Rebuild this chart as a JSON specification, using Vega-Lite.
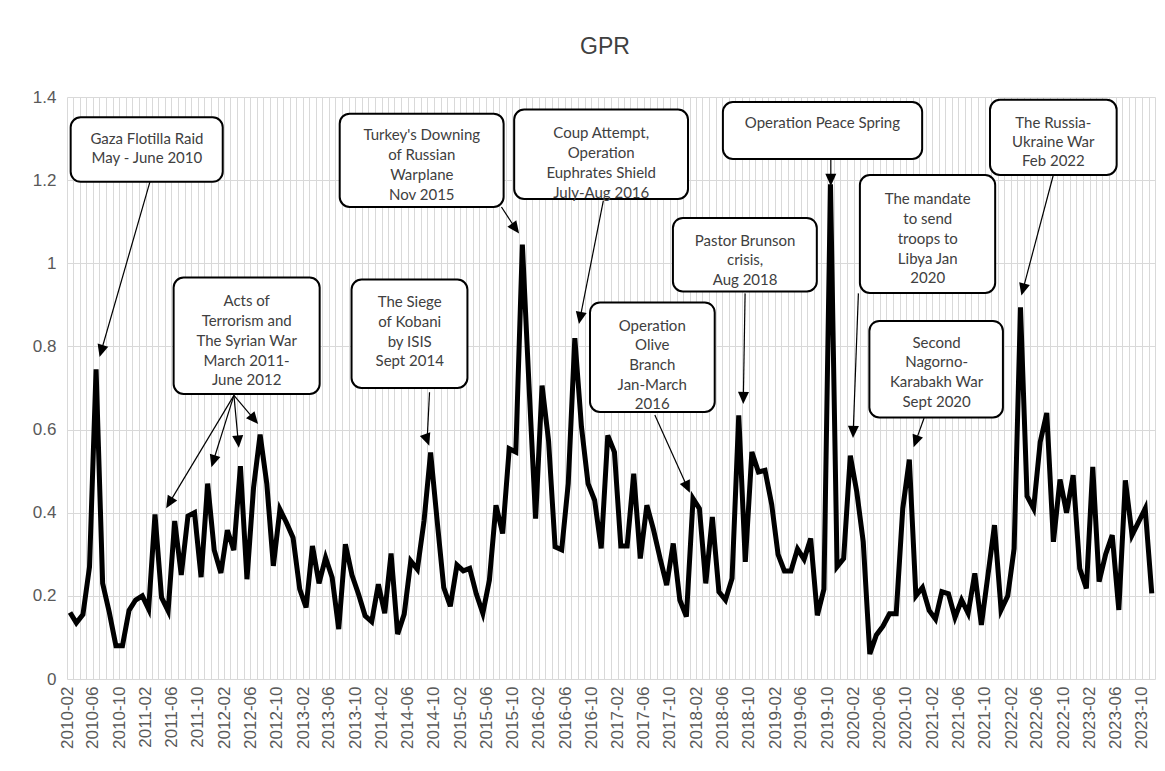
{
  "$schema": "https://vega.github.io/schema/vega-lite/v6.json",
  "width": 1088,
  "height": 582,
  "autosize": {"type": "none"},
  "padding": {"left": 67, "top": 97, "right": 10, "bottom": 92},
  "background": "white",
  "title": {"text": "GPR", "fontSize": 23, "font": "Liberation Sans", "fontWeight": "normal", "color": "#404040", "offset": 29, "dx": -6, "anchor": "middle"},
  "config": {"view": {"stroke": null}, "font": "Liberation Sans"},
  "datasets": {
    "gpr": [
      {"month": "2010-02", "gpr": 0.16}, {"month": "2010-03", "gpr": 0.135}, {"month": "2010-04", "gpr": 0.155}, {"month": "2010-05", "gpr": 0.27},
      {"month": "2010-06", "gpr": 0.745}, {"month": "2010-07", "gpr": 0.23}, {"month": "2010-08", "gpr": 0.16}, {"month": "2010-09", "gpr": 0.08},
      {"month": "2010-10", "gpr": 0.08}, {"month": "2010-11", "gpr": 0.165}, {"month": "2010-12", "gpr": 0.19}, {"month": "2011-01", "gpr": 0.2},
      {"month": "2011-02", "gpr": 0.168}, {"month": "2011-03", "gpr": 0.396}, {"month": "2011-04", "gpr": 0.196}, {"month": "2011-05", "gpr": 0.164},
      {"month": "2011-06", "gpr": 0.38}, {"month": "2011-07", "gpr": 0.25}, {"month": "2011-08", "gpr": 0.392}, {"month": "2011-09", "gpr": 0.4},
      {"month": "2011-10", "gpr": 0.245}, {"month": "2011-11", "gpr": 0.47}, {"month": "2011-12", "gpr": 0.31}, {"month": "2012-01", "gpr": 0.255},
      {"month": "2012-02", "gpr": 0.358}, {"month": "2012-03", "gpr": 0.31}, {"month": "2012-04", "gpr": 0.512}, {"month": "2012-05", "gpr": 0.24},
      {"month": "2012-06", "gpr": 0.46}, {"month": "2012-07", "gpr": 0.588}, {"month": "2012-08", "gpr": 0.47}, {"month": "2012-09", "gpr": 0.272},
      {"month": "2012-10", "gpr": 0.408}, {"month": "2012-11", "gpr": 0.376}, {"month": "2012-12", "gpr": 0.34}, {"month": "2013-01", "gpr": 0.216},
      {"month": "2013-02", "gpr": 0.172}, {"month": "2013-03", "gpr": 0.32}, {"month": "2013-04", "gpr": 0.23}, {"month": "2013-05", "gpr": 0.292},
      {"month": "2013-06", "gpr": 0.244}, {"month": "2013-07", "gpr": 0.12}, {"month": "2013-08", "gpr": 0.324}, {"month": "2013-09", "gpr": 0.25},
      {"month": "2013-10", "gpr": 0.204}, {"month": "2013-11", "gpr": 0.152}, {"month": "2013-12", "gpr": 0.138}, {"month": "2014-01", "gpr": 0.228},
      {"month": "2014-02", "gpr": 0.158}, {"month": "2014-03", "gpr": 0.302}, {"month": "2014-04", "gpr": 0.108}, {"month": "2014-05", "gpr": 0.156},
      {"month": "2014-06", "gpr": 0.284}, {"month": "2014-07", "gpr": 0.264}, {"month": "2014-08", "gpr": 0.38}, {"month": "2014-09", "gpr": 0.545},
      {"month": "2014-10", "gpr": 0.38}, {"month": "2014-11", "gpr": 0.22}, {"month": "2014-12", "gpr": 0.175}, {"month": "2015-01", "gpr": 0.274},
      {"month": "2015-02", "gpr": 0.26}, {"month": "2015-03", "gpr": 0.266}, {"month": "2015-04", "gpr": 0.205}, {"month": "2015-05", "gpr": 0.158},
      {"month": "2015-06", "gpr": 0.238}, {"month": "2015-07", "gpr": 0.418}, {"month": "2015-08", "gpr": 0.35}, {"month": "2015-09", "gpr": 0.554},
      {"month": "2015-10", "gpr": 0.546}, {"month": "2015-11", "gpr": 1.045}, {"month": "2015-12", "gpr": 0.71}, {"month": "2016-01", "gpr": 0.386},
      {"month": "2016-02", "gpr": 0.706}, {"month": "2016-03", "gpr": 0.574}, {"month": "2016-04", "gpr": 0.318}, {"month": "2016-05", "gpr": 0.311},
      {"month": "2016-06", "gpr": 0.47}, {"month": "2016-07", "gpr": 0.82}, {"month": "2016-08", "gpr": 0.606}, {"month": "2016-09", "gpr": 0.47},
      {"month": "2016-10", "gpr": 0.43}, {"month": "2016-11", "gpr": 0.314}, {"month": "2016-12", "gpr": 0.586}, {"month": "2017-01", "gpr": 0.546},
      {"month": "2017-02", "gpr": 0.32}, {"month": "2017-03", "gpr": 0.32}, {"month": "2017-04", "gpr": 0.494}, {"month": "2017-05", "gpr": 0.29},
      {"month": "2017-06", "gpr": 0.418}, {"month": "2017-07", "gpr": 0.36}, {"month": "2017-08", "gpr": 0.29}, {"month": "2017-09", "gpr": 0.226},
      {"month": "2017-10", "gpr": 0.326}, {"month": "2017-11", "gpr": 0.19}, {"month": "2017-12", "gpr": 0.15}, {"month": "2018-01", "gpr": 0.434},
      {"month": "2018-02", "gpr": 0.41}, {"month": "2018-03", "gpr": 0.23}, {"month": "2018-04", "gpr": 0.39}, {"month": "2018-05", "gpr": 0.21},
      {"month": "2018-06", "gpr": 0.19}, {"month": "2018-07", "gpr": 0.242}, {"month": "2018-08", "gpr": 0.634}, {"month": "2018-09", "gpr": 0.282},
      {"month": "2018-10", "gpr": 0.546}, {"month": "2018-11", "gpr": 0.498}, {"month": "2018-12", "gpr": 0.502}, {"month": "2019-01", "gpr": 0.42},
      {"month": "2019-02", "gpr": 0.3}, {"month": "2019-03", "gpr": 0.26}, {"month": "2019-04", "gpr": 0.26}, {"month": "2019-05", "gpr": 0.313},
      {"month": "2019-06", "gpr": 0.288}, {"month": "2019-07", "gpr": 0.338}, {"month": "2019-08", "gpr": 0.153}, {"month": "2019-09", "gpr": 0.216},
      {"month": "2019-10", "gpr": 1.19}, {"month": "2019-11", "gpr": 0.27}, {"month": "2019-12", "gpr": 0.29}, {"month": "2020-01", "gpr": 0.537},
      {"month": "2020-02", "gpr": 0.45}, {"month": "2020-03", "gpr": 0.33}, {"month": "2020-04", "gpr": 0.06}, {"month": "2020-05", "gpr": 0.106},
      {"month": "2020-06", "gpr": 0.127}, {"month": "2020-07", "gpr": 0.157}, {"month": "2020-08", "gpr": 0.157}, {"month": "2020-09", "gpr": 0.41},
      {"month": "2020-10", "gpr": 0.528}, {"month": "2020-11", "gpr": 0.2}, {"month": "2020-12", "gpr": 0.22}, {"month": "2021-01", "gpr": 0.165},
      {"month": "2021-02", "gpr": 0.144}, {"month": "2021-03", "gpr": 0.21}, {"month": "2021-04", "gpr": 0.205}, {"month": "2021-05", "gpr": 0.148},
      {"month": "2021-06", "gpr": 0.19}, {"month": "2021-07", "gpr": 0.158}, {"month": "2021-08", "gpr": 0.254}, {"month": "2021-09", "gpr": 0.13},
      {"month": "2021-10", "gpr": 0.25}, {"month": "2021-11", "gpr": 0.37}, {"month": "2021-12", "gpr": 0.166}, {"month": "2022-01", "gpr": 0.2},
      {"month": "2022-02", "gpr": 0.314}, {"month": "2022-03", "gpr": 0.894}, {"month": "2022-04", "gpr": 0.44}, {"month": "2022-05", "gpr": 0.41},
      {"month": "2022-06", "gpr": 0.57}, {"month": "2022-07", "gpr": 0.64}, {"month": "2022-08", "gpr": 0.33}, {"month": "2022-09", "gpr": 0.48},
      {"month": "2022-10", "gpr": 0.4}, {"month": "2022-11", "gpr": 0.49}, {"month": "2022-12", "gpr": 0.266}, {"month": "2023-01", "gpr": 0.218},
      {"month": "2023-02", "gpr": 0.51}, {"month": "2023-03", "gpr": 0.234}, {"month": "2023-04", "gpr": 0.3}, {"month": "2023-05", "gpr": 0.346},
      {"month": "2023-06", "gpr": 0.166}, {"month": "2023-07", "gpr": 0.478}, {"month": "2023-08", "gpr": 0.346}, {"month": "2023-09", "gpr": 0.378},
      {"month": "2023-10", "gpr": 0.41}, {"month": "2023-11", "gpr": 0.206}
    ],
    "boxes": [
      {"event": "Gaza", "x": "2010-02-18", "x2": "2012-01-25", "y": 1.351, "y2": 1.196},
      {"event": "Syria", "x": "2011-06-11", "x2": "2013-04-19", "y": 0.9656, "y2": 0.6856},
      {"event": "Kobani", "x": "2013-09-14", "x2": "2015-03-06", "y": 0.9608, "y2": 0.70},
      {"event": "Warplane", "x": "2013-07-21", "x2": "2015-08-21", "y": 1.360, "y2": 1.1354},
      {"event": "Coup", "x": "2015-10-09", "x2": "2017-12-24", "y": 1.3697, "y2": 1.1547},
      {"event": "Olive", "x": "2016-09-25", "x2": "2018-04-27", "y": 0.9057, "y2": 0.6423},
      {"event": "Brunson", "x": "2017-10-15", "x2": "2019-08-14", "y": 1.109, "y2": 0.9322},
      {"event": "Peace", "x": "2018-06-04", "x2": "2020-12-15", "y": 1.388, "y2": 1.2509},
      {"event": "Libya", "x": "2020-03-01", "x2": "2021-11-19", "y": 1.2124, "y2": 0.9285},
      {"event": "Nagorno", "x": "2020-04-14", "x2": "2021-12-25", "y": 0.8612, "y2": 0.6291},
      {"event": "Ukraine", "x": "2021-10-26", "x2": "2023-06-06", "y": 1.3933, "y2": 1.2124}
    ],
    "labels": [
      {"x": "2011-02-07", "y": 1.300, "text": "Gaza Flotilla Raid"},
      {"x": "2011-02-07", "y": 1.253, "text": "May - June 2010"},
      {"x": "2012-05-15", "y": 0.9093, "text": "Acts of"},
      {"x": "2012-05-15", "y": 0.8612, "text": "Terrorism and"},
      {"x": "2012-05-15", "y": 0.8131, "text": "The Syrian War"},
      {"x": "2012-05-15", "y": 0.7659, "text": "March 2011-"},
      {"x": "2012-05-15", "y": 0.7183, "text": "June 2012"},
      {"x": "2014-06-11", "y": 0.9069, "text": "The Siege"},
      {"x": "2014-06-11", "y": 0.8588, "text": "of Kobani"},
      {"x": "2014-06-11", "y": 0.8114, "text": "by ISIS"},
      {"x": "2014-06-11", "y": 0.7640, "text": "Sept 2014"},
      {"x": "2014-08-06", "y": 1.3086, "text": "Turkey's Downing"},
      {"x": "2014-08-06", "y": 1.2605, "text": "of Russian"},
      {"x": "2014-08-06", "y": 1.2124, "text": "Warplane"},
      {"x": "2014-08-06", "y": 1.1653, "text": "Nov 2015"},
      {"x": "2016-11-16", "y": 1.3134, "text": "Coup Attempt,"},
      {"x": "2016-11-16", "y": 1.2653, "text": "Operation"},
      {"x": "2016-11-16", "y": 1.2172, "text": "Euphrates Shield"},
      {"x": "2016-11-16", "y": 1.1701, "text": "July-Aug 2016"},
      {"x": "2017-07-11", "y": 0.8492, "text": "Operation"},
      {"x": "2017-07-11", "y": 0.8023, "text": "Olive"},
      {"x": "2017-07-11", "y": 0.7554, "text": "Branch"},
      {"x": "2017-07-11", "y": 0.7084, "text": "Jan-March"},
      {"x": "2017-07-11", "y": 0.6608, "text": "2016"},
      {"x": "2018-09-15", "y": 1.0536, "text": "Pastor Brunson"},
      {"x": "2018-09-15", "y": 1.0079, "text": "crisis,"},
      {"x": "2018-09-15", "y": 0.9608, "text": "Aug 2018"},
      {"x": "2019-09-09", "y": 1.3382, "text": "Operation Peace Spring"},
      {"x": "2021-01-10", "y": 1.1547, "text": "The mandate"},
      {"x": "2021-01-10", "y": 1.1066, "text": "to send"},
      {"x": "2021-01-10", "y": 1.0584, "text": "troops to"},
      {"x": "2021-01-10", "y": 1.0111, "text": "Libya  Jan"},
      {"x": "2021-01-10", "y": 0.9656, "text": "2020"},
      {"x": "2021-02-20", "y": 0.8083, "text": "Second"},
      {"x": "2021-02-20", "y": 0.7626, "text": "Nagorno-"},
      {"x": "2021-02-20", "y": 0.7145, "text": "Karabakh War"},
      {"x": "2021-02-20", "y": 0.6663, "text": "Sept 2020"},
      {"x": "2022-08-16", "y": 1.3382, "text": "The Russia-"},
      {"x": "2022-08-16", "y": 1.2906, "text": "Ukraine War"},
      {"x": "2022-08-16", "y": 1.2461, "text": "Feb 2022"}
    ],
    "arrows": [
      {"x": "2011-02-21", "y": 1.196, "x2": "2010-07-10", "y2": 0.789, "angle": 196},
      {"x": "2012-03-17", "y": 0.6822, "x2": "2011-05-22", "y2": 0.4236, "angle": 211},
      {"x": "2012-03-17", "y": 0.6822, "x2": "2011-12-12", "y2": 0.5237, "angle": 197.5},
      {"x": "2012-03-17", "y": 0.6822, "x2": "2012-04-06", "y2": 0.571, "angle": 175},
      {"x": "2012-03-17", "y": 0.6822, "x2": "2012-06-19", "y2": 0.6245, "angle": 140},
      {"x": "2014-09-11", "y": 0.6897, "x2": "2014-08-31", "y2": 0.5752, "angle": 160},
      {"x": "2015-08-11", "y": 1.1354, "x2": "2015-10-15", "y2": 1.0837, "angle": 143.7},
      {"x": "2016-11-26", "y": 1.1508, "x2": "2016-08-10", "y2": 0.8682, "angle": 191},
      {"x": "2017-07-23", "y": 0.6351, "x2": "2017-12-21", "y2": 0.4614, "angle": 155.7},
      {"x": "2018-09-15", "y": 0.9276, "x2": "2018-09-07", "y2": 0.676, "angle": 181},
      {"x": "2019-10-18", "y": 1.2509, "x2": "2019-10-18", "y2": 1.2004, "angle": 180},
      {"x": "2020-02-23", "y": 0.9276, "x2": "2020-01-30", "y2": 0.5942, "angle": 182},
      {"x": "2020-12-24", "y": 0.6279, "x2": "2020-11-15", "y2": 0.5716, "angle": 200},
      {"x": "2022-08-16", "y": 1.2124, "x2": "2022-03-28", "y2": 0.9367, "angle": 194.7}
    ]
  },
  "layer": [
    {
      "data": {"name": "gpr"},
      "mark": {"type": "line", "color": "black", "strokeWidth": 5},
      "encoding": {
        "x": {
          "field": "month", "type": "temporal", "timeUnit": "utcyearmonth", "bandPosition": 0.5, "title": null,
          "scale": {"type": "utc", "domain": [{"year": 2010, "month": 2, "date": 1, "utc": true}, {"year": 2023, "month": 12, "date": 1, "utc": true}]},
          "axis": {
            "title": null,
            "tickCount": {"interval": "month", "step": 1},
            "grid": true, "gridColor": "#d9d9d9", "gridWidth": 1,
            "ticks": false, "domain": false,
            "labelAngle": -90,
            "labelExpr": "utcmonth(datum.value) % 4 == 1 ? utcFormat(datum.value, '%Y-%m') : ''",
            "labelFont": "Liberation Sans", "labelFontSize": 17, "labelColor": "#595959",
            "labelPadding": 7, "labelOverlap": false, "labelFlush": false, "labelBound": false
          }
        },
        "y": {
          "field": "gpr", "type": "quantitative", "title": null,
          "scale": {"domain": [0, 1.4], "nice": false, "zero": true},
          "axis": {
            "title": null,
            "values": [0, 0.2, 0.4, 0.6, 0.8, 1, 1.2, 1.4],
            "format": "~g",
            "grid": true, "gridColor": "#d9d9d9", "gridWidth": 1,
            "ticks": false, "domain": false,
            "labelFont": "Liberation Sans", "labelFontSize": 17, "labelColor": "#595959", "labelPadding": 11
          }
        }
      }
    },
    {
      "data": {"name": "arrows"},
      "mark": {"type": "rule", "color": "black", "strokeWidth": 1.2},
      "encoding": {
        "x": {"field": "x", "type": "temporal", "title": null},
        "x2": {"field": "x2"},
        "y": {"field": "y", "type": "quantitative", "title": null},
        "y2": {"field": "y2"}
      }
    },
    {
      "data": {"name": "arrows"},
      "mark": {"type": "point", "shape": "M0,-1L0.9,1L-0.9,1Z", "filled": true, "color": "black", "size": 150, "opacity": 1, "strokeWidth": 0},
      "encoding": {
        "x": {"field": "x2", "type": "temporal", "title": null},
        "y": {"field": "y2", "type": "quantitative", "title": null},
        "angle": {"field": "angle", "type": "quantitative", "scale": null}
      }
    },
    {
      "data": {"name": "boxes"},
      "mark": {"type": "rect", "fill": "white", "stroke": "black", "strokeWidth": 2, "cornerRadius": 10},
      "encoding": {
        "x": {"field": "x", "type": "temporal", "title": null},
        "x2": {"field": "x2"},
        "y": {"field": "y", "type": "quantitative", "title": null},
        "y2": {"field": "y2"}
      }
    },
    {
      "data": {"name": "labels"},
      "mark": {"type": "text", "font": "Lato", "fontSize": 15, "color": "#404040", "align": "center", "baseline": "middle"},
      "encoding": {
        "x": {"field": "x", "type": "temporal", "title": null},
        "y": {"field": "y", "type": "quantitative", "title": null},
        "text": {"field": "text"}
      }
    }
  ]
}
